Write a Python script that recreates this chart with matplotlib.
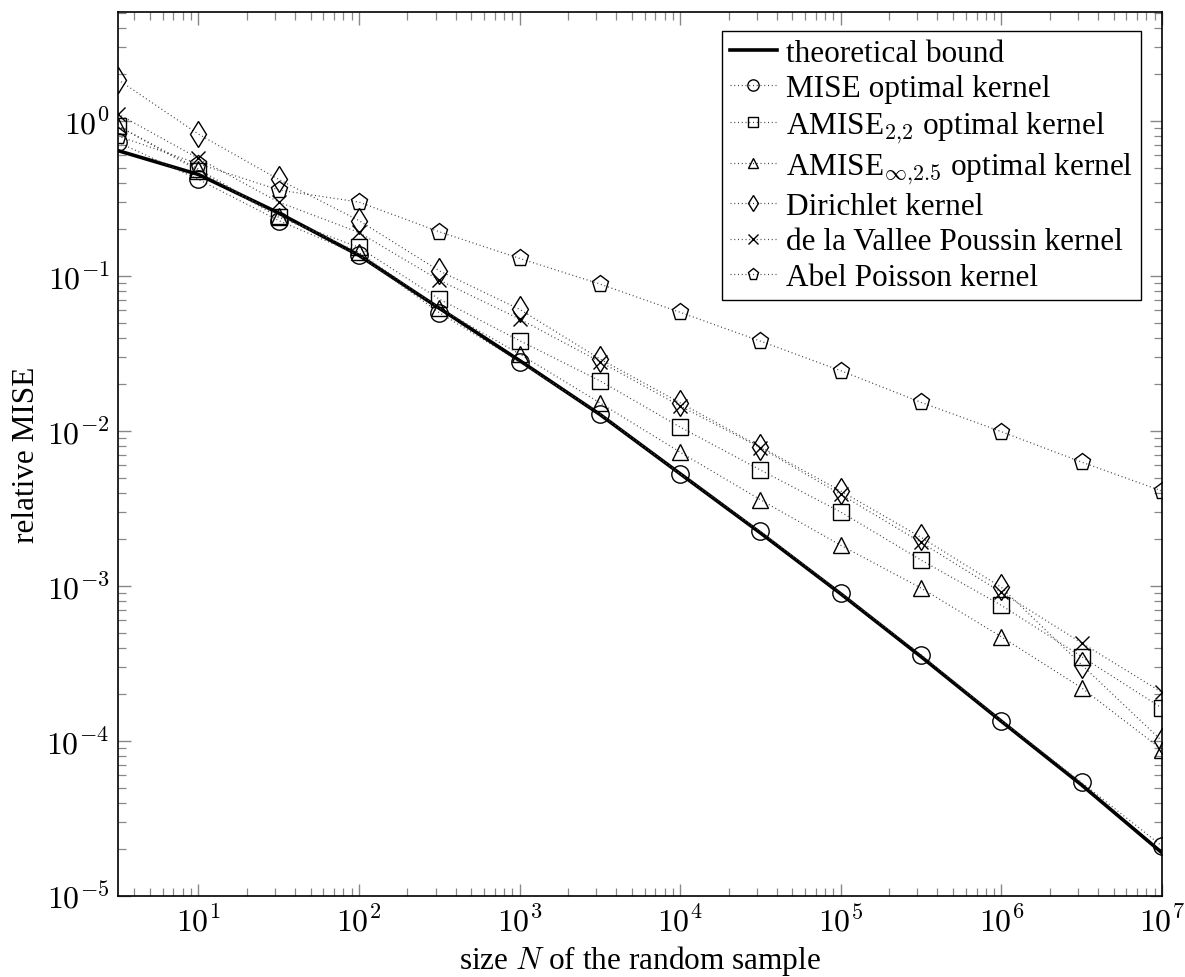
import matplotlib
matplotlib.use("Agg")
import matplotlib.pyplot as plt
from matplotlib.ticker import LogLocator, NullFormatter, FixedLocator, FixedFormatter

plt.rcParams['font.family'] = ['Liberation Serif', 'DejaVu Serif']
plt.rcParams['mathtext.fontset'] = 'cm'

N = [10**0.5, 10, 10**1.5, 100, 10**2.5, 1e3, 10**3.5, 1e4, 10**4.5, 1e5, 10**5.5, 1e6, 10**6.5, 1e7]

bound = [0.644, 0.452, 0.255, 0.136, 0.062, 0.0285, 0.0128, 0.0053, 0.0022, 0.00089,
         0.00035, 0.000134, 5.2e-5, 1.9e-5]
mise_opt = [0.73, 0.42, 0.228, 0.137, 0.058, 0.028, 0.0129, 0.0053, 0.00225, 0.0009,
            0.00036, 0.000135, 5.4e-5, 2.1e-5]
amise22 = [0.93, 0.478, 0.239, 0.153, 0.071, 0.0383, 0.0211, 0.0106, 0.0056, 0.0030,
           0.00147, 0.00075, 0.00035, 0.000163]
amise_inf = [0.93, 0.49, 0.245, 0.142, 0.062, 0.0314, 0.0152, 0.0073, 0.0036, 0.00183,
             0.00097, 0.00047, 0.00022, 8.8e-5]
dirichlet = [1.85, 0.824, 0.42, 0.228, 0.108, 0.061, 0.0292, 0.0152, 0.0079, 0.0041,
             0.00206, 0.00098, 0.00031, 0.0001]
vallee = [1.11, 0.574, 0.30, 0.191, 0.094, 0.0528, 0.028, 0.0145, 0.0078, 0.0039,
          0.00191, 0.00091, 0.000429, 0.000206]
abel = [0.80, 0.53, 0.359, 0.30, 0.193, 0.130, 0.0888, 0.0583, 0.038, 0.0245,
        0.0153, 0.0099, 0.0063, 0.0041]

x_ticks = [1e1, 1e2, 1e3, 1e4, 1e5, 1e6, 1e7]
x_tick_labels = [r'$10^{1}$', r'$10^{2}$', r'$10^{3}$', r'$10^{4}$', r'$10^{5}$', r'$10^{6}$', r'$10^{7}$']
y_ticks = [1e-5, 1e-4, 1e-3, 1e-2, 1e-1, 1e0]
y_tick_labels = [r'$10^{-5}$', r'$10^{-4}$', r'$10^{-3}$', r'$10^{-2}$', r'$10^{-1}$', r'$10^{0}$']

series = [
    ("MISE optimal kernel", mise_opt, 'o', 12.5),
    (r"AMISE$_{2{,}2}$ optimal kernel", amise22, 's', 11.5),
    (r"AMISE$_{\infty{,}2.5}$ optimal kernel", amise_inf, '^', 11),
    ("Dirichlet kernel", dirichlet, 'd', 13),
    ("de la Vallee Poussin kernel", vallee, 'x', 10),
    ("Abel Poisson kernel", abel, 'p', 12.5),
]

fig = plt.figure(figsize=(11.85, 9.78), dpi=100)
ax = fig.add_axes([118/1185, 1-897/978, (1162-118)/1185, (897-13)/978])

ax.plot(N, bound, color='black', lw=2.6, label="theoretical bound", zorder=3)
for lab, vals, m, ms in series:
    ax.plot(N, vals, linestyle=(0, (0.8, 2.2)), color='#444444', lw=0.9,
            marker=m, markersize=ms, markerfacecolor='none',
            markeredgecolor='black', markeredgewidth=1.0, label=lab, zorder=4)

ax.set_xscale('log')
ax.set_yscale('log')
ax.set_xlim(10**0.5, 1e7)
ax.set_ylim(1e-5, 5.05)

ax.xaxis.set_major_locator(FixedLocator(x_ticks))
ax.xaxis.set_major_formatter(FixedFormatter(x_tick_labels))
ax.yaxis.set_major_locator(FixedLocator(y_ticks))
ax.yaxis.set_major_formatter(FixedFormatter(y_tick_labels))
ax.xaxis.set_minor_locator(LogLocator(base=10, subs=range(2, 10), numticks=20))
ax.yaxis.set_minor_locator(LogLocator(base=10, subs=range(2, 10), numticks=20))
ax.xaxis.set_minor_formatter(NullFormatter())
ax.yaxis.set_minor_formatter(NullFormatter())

ax.tick_params(which='both', direction='in', top=True, right=True, color='#888888')
ax.tick_params(which='major', length=9, width=1.0, labelsize=23)
ax.tick_params(axis='x', which='major', pad=7)
ax.tick_params(axis='y', which='major', pad=6)
ax.tick_params(which='minor', length=6, width=0.9)
for s in ax.spines.values():
    s.set_linewidth(1.2)

ax.set_xlabel(r"size $N$ of the random sample", fontsize=22.5, labelpad=4)
ax.set_ylabel("relative MISE", fontsize=22.5, labelpad=4)

leg = ax.legend(loc='upper right', bbox_to_anchor=(1 - 21/1044, 1 - 19/884),
                borderaxespad=0, fontsize=22.5, frameon=True, fancybox=False,
                edgecolor='black', framealpha=1, handlelength=1.5,
                handletextpad=0.3, labelspacing=0.2, borderpad=0.25,
                markerscale=0.65)
leg.get_frame().set_linewidth(1.0)

fig.savefig("out.png", dpi=100)
